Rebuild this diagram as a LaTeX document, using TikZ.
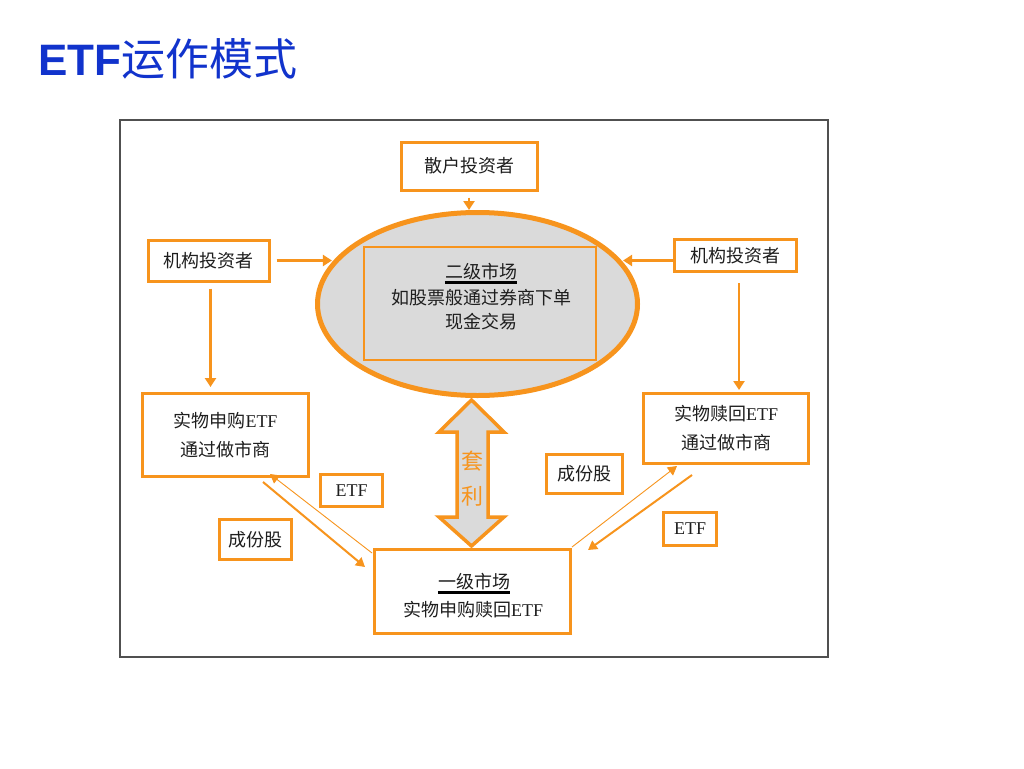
\documentclass[tikz,border=0pt]{standalone}
\usepackage{fontspec}
\setmainfont{Liberation Sans}
\newfontfamily\cjk{Noto Sans CJK SC}
\newfontfamily\tnr{Liberation Serif}
\usetikzlibrary{shapes.geometric,arrows.meta,calc}
\definecolor{orng}{RGB}{247,148,29}
\definecolor{titleblue}{RGB}{17,51,204}
\definecolor{fillgray}{RGB}{218,218,218}
\definecolor{txt}{RGB}{30,30,30}
\definecolor{framegray}{RGB}{80,80,80}
\begin{document}
\begin{tikzpicture}[x=1pt,y=-1pt,
  box/.style={draw=orng,line width=3pt,fill=white,inner sep=0pt,text=txt,font=\cjk\fontsize{18}{29}\selectfont,align=center},
  flow/.style={draw=orng,line width=2.6pt,-{Triangle[width=11pt,length=9pt]}},
  diagflow/.style={draw=orng,line width=2pt,-{Triangle[width=10pt,length=9pt]}},
  thinflow/.style={draw=orng,line width=0.9pt,-{Triangle[width=10pt,length=9pt]}},
  lbl/.style={inner sep=0pt,text=txt,font=\cjk\fontsize{18}{20}\selectfont}]
\useasboundingbox (0,0) rectangle (1024,768);
\fill[white] (0,0) rectangle (1024,768);
% title
\node[anchor=base west,inner sep=0pt,text=titleblue] (title) at (38,75)
  {\fontsize{44}{50}\selectfont\bfseries ETF{\cjk\mdseries 运作模式}};
% frame
\node[draw=framegray,line width=1.2pt,minimum width=708pt,minimum height=537pt,inner sep=0pt] (frame) at (474,388.5) {};
% secondary market
\node[ellipse,draw=orng,line width=5pt,fill=fillgray,minimum width=320pt,minimum height=183pt,inner sep=0pt] (ell) at (477.5,304) {};
\node[draw=orng,line width=2.5pt,minimum width=232pt,minimum height=113pt,inner sep=0pt] (sec) at (480,303.5) {};
\node[lbl] (secA) at (481,272) {二级市场};
\draw[line width=2.5pt,black] ([yshift=-2pt]secA.south west) -- ([yshift=-2pt]secA.south east);
\node[lbl] (secB) at (481,298) {如股票般通过券商下单};
\node[lbl] (secC) at (481,322) {现金交易};
% boxes
\node[box,minimum width=136pt,minimum height=48pt] (sanhu) at (469,166) {散户投资者};
\node[box,minimum width=121pt,minimum height=41pt] (jgL) at (208.5,260.5) {机构投资者};
\node[box,minimum width=122pt,minimum height=32pt] (jgR) at (735,255.5) {机构投资者};
\node[box,minimum width=166pt,minimum height=83pt] (sg) at (225.5,435) {实物申购{\tnr ETF}\\通过做市商};
\node[box,minimum width=165pt,minimum height=70pt] (sh) at (726,428.5) {实物赎回{\tnr ETF}\\通过做市商};
\node[box,minimum width=196pt,minimum height=84pt] (yj) at (472.5,591.5) {};
\node[lbl] (yjA) at (474,582) {一级市场};
\draw[line width=2.5pt,black] ([yshift=-2pt]yjA.south west) -- ([yshift=-2pt]yjA.south east);
\node[lbl] (yjB) at (473,610) {实物申购赎回{\tnr ETF}};
% labels
\node[box,minimum width=62pt,minimum height=32pt] (etfL) at (351.5,490.5) {\tnr ETF};
\node[box,minimum width=72pt,minimum height=40pt] (cfL) at (255.5,539.5) {成份股};
\node[box,minimum width=76pt,minimum height=39pt] (cfR) at (584.5,474) {成份股};
\node[box,minimum width=53pt,minimum height=33pt] (etfR) at (690,529) {\tnr ETF};
% arbitrage double arrow
\draw[orng,line width=3.5pt,fill=fillgray,line join=miter]
  (471.5,400) -- (504,432) -- (488,432) -- (488,517) -- (504,517) -- (471.5,546)
  -- (439,517) -- (457,517) -- (457,432) -- (439,432) -- cycle;
\node[text=orng,font=\cjk\fontsize{22}{35}\selectfont,align=center,inner sep=0pt] (arb) at (472,479) {套\\利};
% connectors
\draw[flow] ([yshift=-6pt]sanhu.south) -- (sanhu.south |- ell.north);
\draw[flow] ([xshift=6pt]jgL.east) -- (jgL.east -| ell.164);
\draw[flow] ([yshift=-5pt]jgR.west) -- ([yshift=-5pt]jgR.west -| ell.16);
\draw[flow,shorten >=5pt] ([shift={(2pt,-6pt)}]jgL.south) -- ([xshift=2pt]jgL.south |- sg.north);
\draw[flow,shorten >=2pt] ([shift={(4pt,-10pt)}]jgR.south) -- ([xshift=4pt]jgR.south |- sh.north);
\coordinate (a1) at (263,482);
\coordinate (a2) at (365,567);
\coordinate (b1) at (372,553);
\coordinate (b2) at (270,474);
\coordinate (c1) at (692,475);
\coordinate (c2) at (588,550);
\coordinate (d1) at (572,547);
\coordinate (d2) at (677,466);
\draw[diagflow] (a1) -- (a2);
\draw[thinflow] (b1) -- (b2);
\draw[diagflow] (c1) -- (c2);
\draw[thinflow] (d1) -- (d2);
\end{tikzpicture}
\end{document}
